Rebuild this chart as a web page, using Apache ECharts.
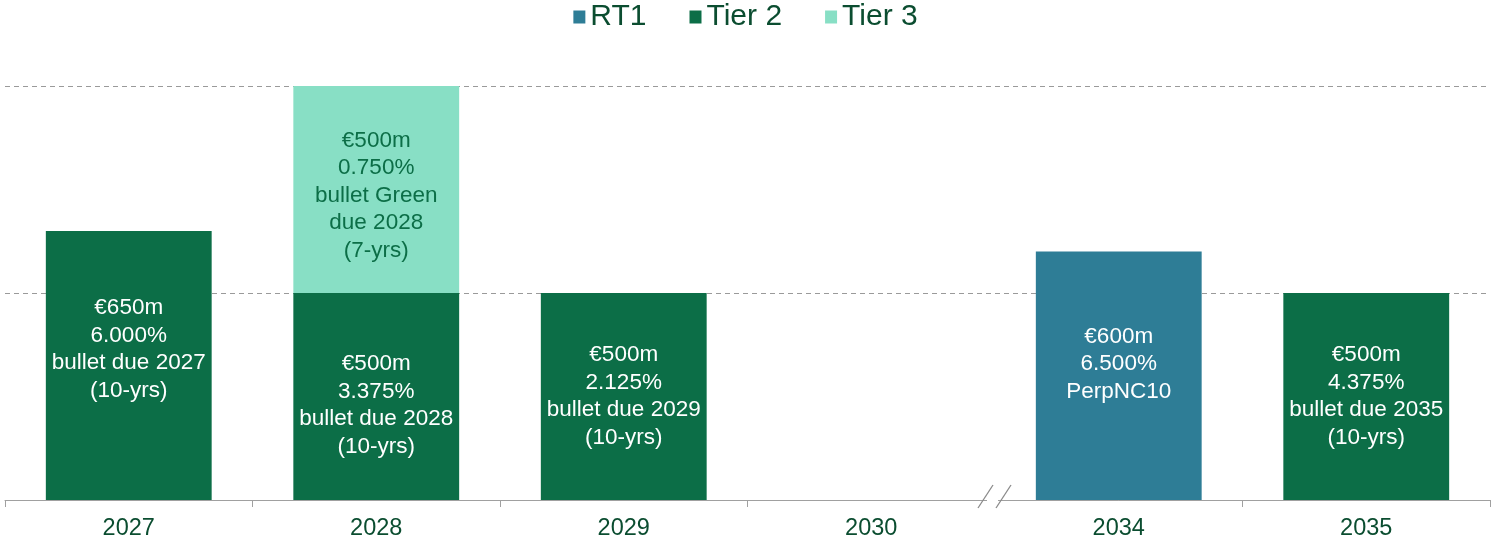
<!DOCTYPE html>
<html>
<head>
<meta charset="utf-8">
<script src="https://cdn.jsdelivr.net/npm/echarts@6/dist/echarts.min.js"></script>
<style>
  html, body { margin: 0; padding: 0; background: #fff; }
  #main { width: 1491px; height: 541px; }
</style>
</head>
<body>
<div id="main"></div>
<script>
// data
const categories = ['2027', '2028', '2029', '2030', '2034', '2035'];
const rt1Values = [null, null, null, null, 600, null];
const tier2Values = [650, 500, 500, null, null, 500];
const tier3Values = [null, 500, null, null, null, null];
const rt1Labels = ['', '', '', '', '€600m\n6.500%\nPerpNC10', ''];
const tier2Labels = [
  '€650m\n6.000%\nbullet due 2027\n(10-yrs)',
  '€500m\n3.375%\nbullet due 2028\n(10-yrs)',
  '€500m\n2.125%\nbullet due 2029\n(10-yrs)',
  '',
  '',
  '€500m\n4.375%\nbullet due 2035\n(10-yrs)'
];
const tier3Labels = ['', '€500m\n0.750%\nbullet Green\ndue 2028\n(7-yrs)', '', '', '', ''];

const FONT = '"Liberation Sans", Arial, sans-serif';
const C_RT1 = '#2e7d96';
const C_T2 = '#0c6e47';
const C_T3 = '#88dfc5';
const C_TEXT = '#0b4d30';

// label vertical nudges (px), per series and category
const nudge = {
  'RT1': { '2034': -12 },
  'Tier 2': { '2027': -16, '2028': 9 },
  'Tier 3': { '2028': 6 }
};

const myChart = echarts.init(document.getElementById('main'));

function barSeries(name, values, labels, color, textColor) {
  return {
    name: name,
    type: 'bar',
    stack: 'total',
    barWidth: '67%',
    itemStyle: { color: color },
    label: {
      show: true,
      position: 'inside',
      color: textColor,
      fontFamily: FONT,
      fontSize: 22.5,
      lineHeight: 27.5,
      formatter: function (p) { return labels[p.dataIndex]; }
    },
    emphasis: { disabled: true },
    data: values.map(function (v, i) {
      const dy = (nudge[name] || {})[categories[i]] || 0;
      return { value: v, label: { offset: [0, dy] } };
    })
  };
}

option = {
  backgroundColor: '#fff',
  animation: false,
  legend: {
    top: -3,
    left: 'center',
    icon: 'rect',
    itemWidth: 12,
    itemHeight: 13,
    itemGap: 43,
    textStyle: { color: C_TEXT, fontFamily: FONT, fontSize: 30 },
    data: ['RT1', 'Tier 2', 'Tier 3']
  },
  grid: { left: 5, right: 1, top: 86, bottom: 41 },
  xAxis: {
    type: 'category',
    data: categories,
    axisLine: { lineStyle: { color: '#a0a0a0', width: 1 } },
    axisTick: { show: true, length: 7, lineStyle: { color: '#a0a0a0' } },
    axisLabel: { color: C_TEXT, fontFamily: FONT, fontSize: 23.5, margin: 17 }
  },
  yAxis: {
    type: 'value',
    min: 0,
    max: 1000,
    interval: 500,
    axisLabel: { show: false },
    axisLine: { show: false },
    axisTick: { show: false },
    splitLine: { lineStyle: { color: '#9a9a9a', type: [5, 4], width: 1 } }
  },
  series: [
    barSeries('RT1', rt1Values, rt1Labels, C_RT1, '#fff'),
    barSeries('Tier 2', tier2Values, tier2Labels, C_T2, '#fff'),
    barSeries('Tier 3', tier3Values, tier3Labels, C_T3, C_T2)
  ]
};

myChart.setOption(option);

// axis break marks between 2030 and 2034
const xa = myChart.convertToPixel({ xAxisIndex: 0 }, '2030');
const xb = myChart.convertToPixel({ xAxisIndex: 0 }, '2034');
const bx = (xa + xb) / 2;
const by = myChart.convertToPixel({ yAxisIndex: 0 }, 0);
myChart.setOption({
  graphic: [
    { type: 'rect', z: 100, shape: { x: bx - 8, y: by - 3, width: 11, height: 12 }, style: { fill: '#fff' } },
    { type: 'line', z: 101, shape: { x1: bx - 17, y1: by + 8, x2: bx - 2, y2: by - 15 }, style: { stroke: '#8a8a8a', lineWidth: 1.3 } },
    { type: 'line', z: 101, shape: { x1: bx + 1, y1: by + 8, x2: bx + 16, y2: by - 15 }, style: { stroke: '#8a8a8a', lineWidth: 1.3 } }
  ]
});
</script>
</body>
</html>
